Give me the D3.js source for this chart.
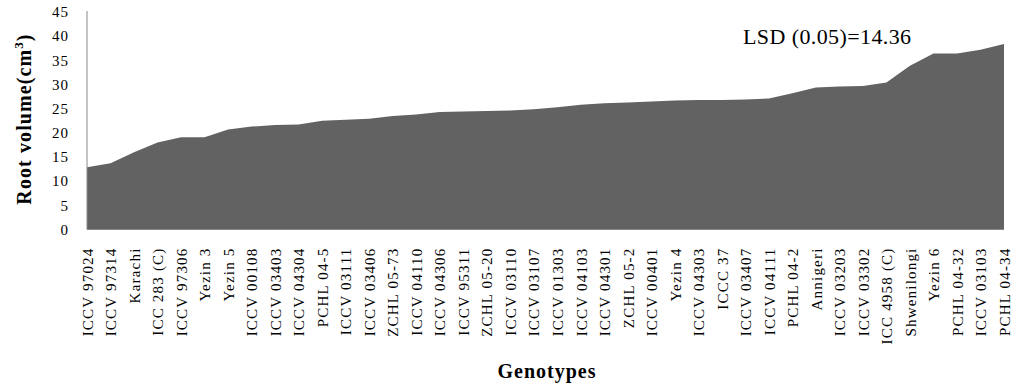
<!DOCTYPE html>
<html><head><meta charset="utf-8">
<script src="https://cdn.jsdelivr.net/npm/d3@7.9.0/dist/d3.min.js"></script>
<style>
body{margin:0;background:#fff;}
svg{display:block;}
text{font-family:'Liberation Serif',serif;}
</style></head>
<body><svg width="1019" height="385"></svg>
<script>
const genotypes=["ICCV 97024","ICCV 97314","Karachi","ICC 283 (C)","ICCV 97306","Yezin 3","Yezin 5","ICCV 00108","ICCV 03403","ICCV 04304","PCHL 04-5","ICCV 03111","ICCV 03406","ZCHL 05-73","ICCV 04110","ICCV 04306","ICCV 95311","ZCHL 05-20","ICCV 03110","ICCV 03107","ICCV 01303","ICCV 04103","ICCV 04301","ZCHL 05-2","ICCV 00401","Yezin 4","ICCV 04303","ICCC 37","ICCV 03407","ICCV 04111","PCHL 04-2","Annigeri","ICCV 03203","ICCV 03302","ICC 4958 (C)","Shwenilongi","Yezin 6","PCHL 04-32","ICCV 03103","PCHL 04-34"];
const rootVolume=[12.9,13.7,16.0,18.0,19.1,19.1,20.7,21.3,21.6,21.7,22.5,22.7,22.9,23.5,23.8,24.3,24.4,24.5,24.6,24.9,25.3,25.8,26.1,26.3,26.5,26.7,26.8,26.8,26.9,27.1,28.2,29.4,29.6,29.7,30.4,33.9,36.4,36.4,37.2,38.4];
const yTicks=[0,5,10,15,20,25,30,35,40,45];

const svg=d3.select("svg");
const x=d3.scalePoint().domain(genotypes).range([87,1004]);
const y=d3.scaleLinear().domain([0,45]).range([229.5,12]);

const area=d3.area().x((d,i)=>x(genotypes[i])).y0(y(0)).y1(d=>y(d));
svg.append("path").datum(rootVolume).attr("d",area).attr("fill","#626262");

// y axis
const ya=svg.append("g").attr("transform","translate(87,0)").call(d3.axisLeft(y).tickValues(yTicks).tickSize(0).tickPadding(18));
ya.attr("font-family",null);
ya.select(".domain").attr("stroke","#888").attr("d","M0,11V229.5");
ya.selectAll("text").style("font-family","'Liberation Serif'").attr("font-size",15).attr("fill","#000").style("letter-spacing","1px");

// x axis
const xa=svg.append("g").attr("transform","translate(0,229.5)").call(d3.axisBottom(x).tickSize(0));
xa.attr("font-family",null);
xa.select(".domain").attr("stroke","#888").attr("d","M87,0H1004");
xa.selectAll("text").style("font-family","'Liberation Serif'").attr("font-size",15).attr("fill","#000")
  .style("letter-spacing","1.2px")
  .attr("transform","rotate(-90)").attr("x",-18).attr("y",0).attr("dy","0.35em").attr("text-anchor","end");

svg.append("text").attr("transform","translate(31,119) rotate(-90)").attr("text-anchor","middle")
  .style("font-family","'Liberation Serif'").attr("font-size",20).attr("font-weight","bold").style("letter-spacing","1.1px")
  .html('Root volume(cm<tspan font-size="13" dy="-8">3</tspan><tspan dy="8">)</tspan>');

svg.append("text").attr("x",547).attr("y",378).attr("text-anchor","middle")
  .style("font-family","'Liberation Serif'").attr("font-size",20).attr("font-weight","bold").style("letter-spacing","1px").text("Genotypes");

svg.append("text").attr("x",743).attr("y",44).style("font-family","'Liberation Serif'").attr("font-size",22).style("letter-spacing","0.4px").text("LSD (0.05)=14.36");
</script></body></html>
